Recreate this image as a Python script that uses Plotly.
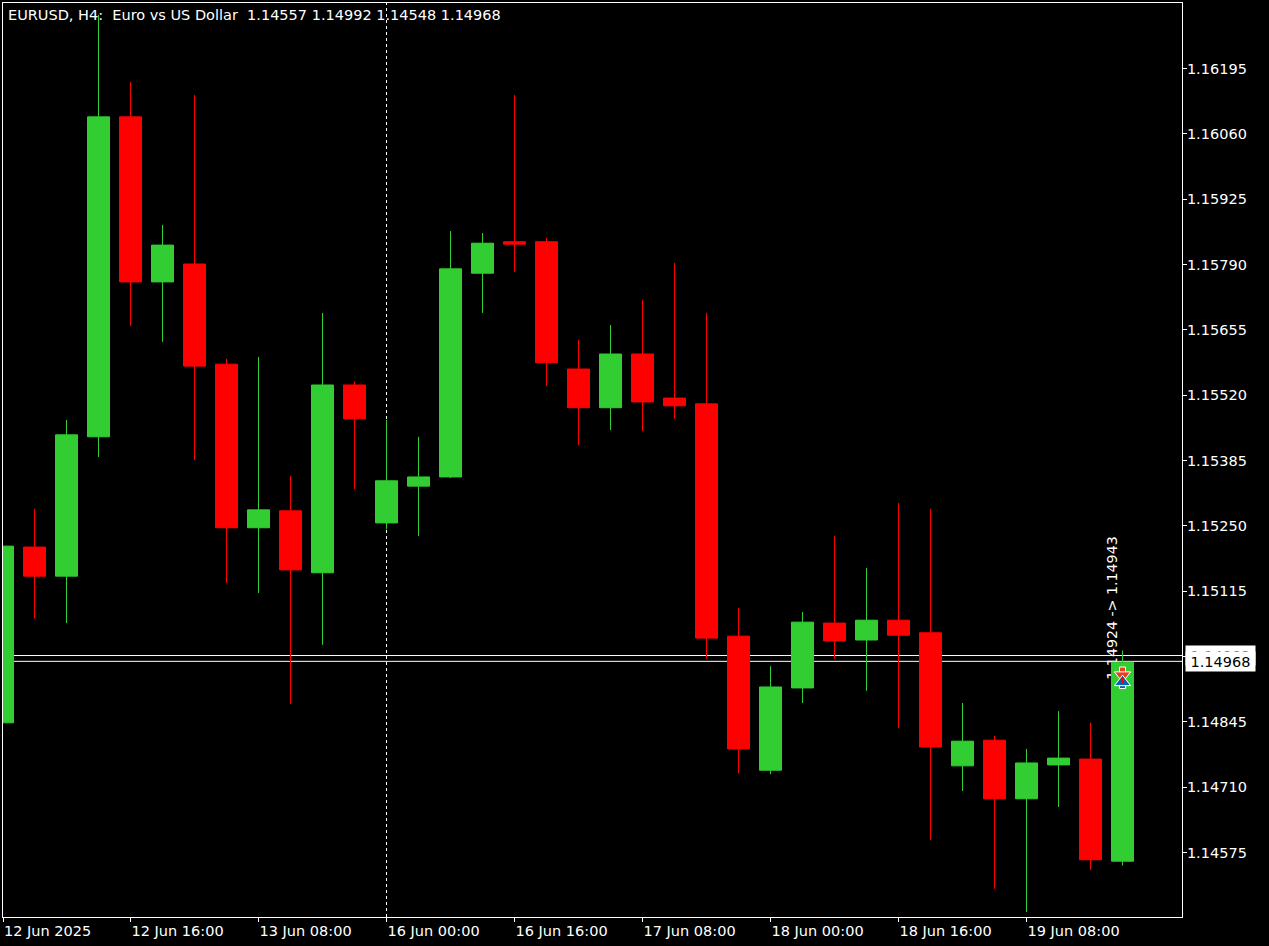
import plotly.graph_objects as go

bar_index = list(range(36))
opens = [1.14843,1.15206,1.15146,1.15434,1.16095,1.15754,1.15791,1.15584,1.15246,1.15281,1.15153,1.15541,
         1.15256,1.15332,1.15351,1.15772,1.15837,1.15837,1.15574,1.15494,1.15605,1.15514,1.15502,1.15022,
         1.14745,1.14915,1.15049,1.15014,1.15055,1.15029,1.14754,1.14807,1.14686,1.14756,1.14768,1.14557]
highs = [1.15208,1.15285,1.15469,1.16306,1.16167,1.15872,1.16140,1.15595,1.15599,1.15353,1.15690,1.15549,
         1.15469,1.15434,1.15859,1.15855,1.16140,1.15845,1.15634,1.15665,1.15717,1.15793,1.15690,1.15080,
         1.14960,1.15072,1.15229,1.15163,1.15297,1.15285,1.14884,1.14816,1.14789,1.14867,1.14843,1.14992]
lows = [1.14843,1.15058,1.15049,1.15392,1.15663,1.15630,1.15386,1.15132,1.15111,1.14882,1.15004,1.15326,
        1.15243,1.15229,1.15349,1.15690,1.15775,1.15539,1.15417,1.15448,1.15446,1.15471,1.14975,1.14739,
        1.14737,1.14884,1.14975,1.14909,1.14832,1.14601,1.14702,1.14500,1.14452,1.14669,1.14539,1.14548]
closes = [1.15208,1.15146,1.15438,1.16095,1.15754,1.15830,1.15580,1.15246,1.15283,1.15159,1.15541,1.15471,
          1.15343,1.15351,1.15781,1.15834,1.15832,1.15587,1.15494,1.15605,1.15506,1.15498,1.15018,1.14789,
          1.14917,1.15051,1.15012,1.15055,1.15024,1.14793,1.14805,1.14686,1.14760,1.14770,1.14560,1.14968]

price_ticks = [1.16195,1.16060,1.15925,1.15790,1.15655,1.15520,1.15385,1.15250,1.15115,1.14980,1.14845,1.14710,1.14575]
time_ticks = [0.016,4,8,12,16,20,24,28,32]
time_labels = ["12 Jun 2025","12 Jun 16:00","13 Jun 08:00","16 Jun 00:00","16 Jun 16:00",
               "17 Jun 08:00","18 Jun 00:00","18 Jun 16:00","19 Jun 08:00"]
title_text = "EURUSD, H4:\u00a0 Euro vs US Dollar\u00a0 1.14557 1.14992 1.14548 1.14968"
trade_text = "1.14924 -> 1.14943"
level_ask, level_bid = 1.14982, 1.14970
ask_label, bid_label = "1.14982", "1.14968"
trade_bar = [35]
sell_stem, sell_head = [1.14952], [1.14941]
buy_stem, buy_head = [1.14920], [1.14927]
buy_tick = [1.14930]

GREEN, RED, WHITE = "#32CD32", "#FF0000", "#FFFFFF"
ORANGE, BLUE = "#E8401C", "#0A5FB0"
FONT = "DejaVu Sans"
FS = 14.5

def marker_trace(y, symbol, size, color, line_color=WHITE, line_width=1):
    return go.Scatter(x=trade_bar, y=y, mode="markers", showlegend=False, hoverinfo="skip",
                      marker=dict(symbol=symbol, size=size, color=color,
                                  line=dict(color=line_color, width=line_width)))

fig = go.Figure()
fig.add_trace(go.Candlestick(
    x=bar_index, open=opens, high=highs, low=lows, close=closes, whiskerwidth=0,
    increasing=dict(line=dict(color=GREEN, width=1), fillcolor=GREEN),
    decreasing=dict(line=dict(color=RED, width=1), fillcolor=RED),
    showlegend=False, hoverinfo="skip"))
fig.add_trace(marker_trace(sell_stem, "square", 6, ORANGE))
fig.add_trace(marker_trace(sell_head, "triangle-down", 14, ORANGE))
fig.add_trace(marker_trace(buy_stem, "square", 6, BLUE))
fig.add_trace(marker_trace(buy_head, "triangle-up", 14, BLUE))
fig.add_trace(marker_trace(buy_tick, "line-ns", 4, RED, RED, 1))

shapes = [
    dict(type="line", layer="below", xref="x", yref="paper", x0=12, x1=12, y0=0, y1=1,
         line=dict(color=WHITE, width=1, dash="3px,3px")),
    dict(type="line", layer="below", xref="paper", yref="y", x0=0, x1=1, y0=level_ask, y1=level_ask,
         line=dict(color=WHITE, width=1)),
    dict(type="line", layer="below", xref="paper", yref="y", x0=0, x1=1, y0=level_bid, y1=level_bid,
         line=dict(color=WHITE, width=1)),
    dict(type="line", layer="below", xref="x", yref="y", x0=34.89, x1=34.89, y0=1.14925, y1=1.15223,
         line=dict(color=WHITE, width=0),
         label=dict(text=trade_text, textangle=-90, textposition="middle",
                    font=dict(family=FONT, size=14.2, color=WHITE))),
]
annotations = [
    dict(xref="paper", yref="paper", x=0, y=1, xanchor="left", yanchor="top", xshift=3, yshift=-2,
         text=title_text, showarrow=False, font=dict(family=FONT, size=FS, color=WHITE)),
    dict(xref="paper", yref="y", x=1, y=level_ask, xanchor="left", yanchor="middle", xshift=3,
         text=ask_label, showarrow=False, width=69, height=19, bgcolor=WHITE, borderpad=0,
         font=dict(family=FONT, size=FS, color="#000000")),
    dict(xref="paper", yref="y", x=1, y=level_bid, xanchor="left", yanchor="middle", xshift=3,
         text=bid_label, showarrow=False, width=69, height=19, bgcolor=WHITE, borderpad=0,
         font=dict(family=FONT, size=FS, color="#000000")),
]
fig.update_layout(
    width=1269, height=946, paper_bgcolor="#000000", plot_bgcolor="#000000",
    margin=dict(l=3, r=87, t=3, b=29, pad=0, autoexpand=False),
    boxgap=0.3125, boxgroupgap=0, showlegend=False, shapes=shapes, annotations=annotations,
    font=dict(family=FONT, size=FS, color=WHITE),
    xaxis=dict(type="linear", range=[0.015625, 36.859], rangeslider=dict(visible=False),
               tickmode="array", tickvals=time_ticks, ticktext=time_labels,
               ticks="outside", ticklen=4, tickwidth=1, tickcolor=WHITE,
               ticklabelposition="outside right", tickangle=0, ticklabelstandoff=1,
               tickfont=dict(family=FONT, size=FS, color=WHITE),
               showgrid=False, zeroline=False, showline=True, linecolor=WHITE, linewidth=1, mirror=True),
    yaxis=dict(type="linear", side="right", range=[1.144417, 1.163303],
               tickmode="array", tickvals=price_ticks, tickformat=".5f",
               ticks="outside", ticklen=4, tickwidth=1, tickcolor=WHITE, ticklabelstandoff=-3,
               tickfont=dict(family=FONT, size=FS, color=WHITE),
               showgrid=False, zeroline=False, showline=True, linecolor=WHITE, linewidth=1, mirror=True),
)
fig.write_html("out.html", config=dict(displayModeBar=False),
               post_script="document.body.style.margin='0';document.body.style.background='#000';document.documentElement.style.overflow='hidden';")
